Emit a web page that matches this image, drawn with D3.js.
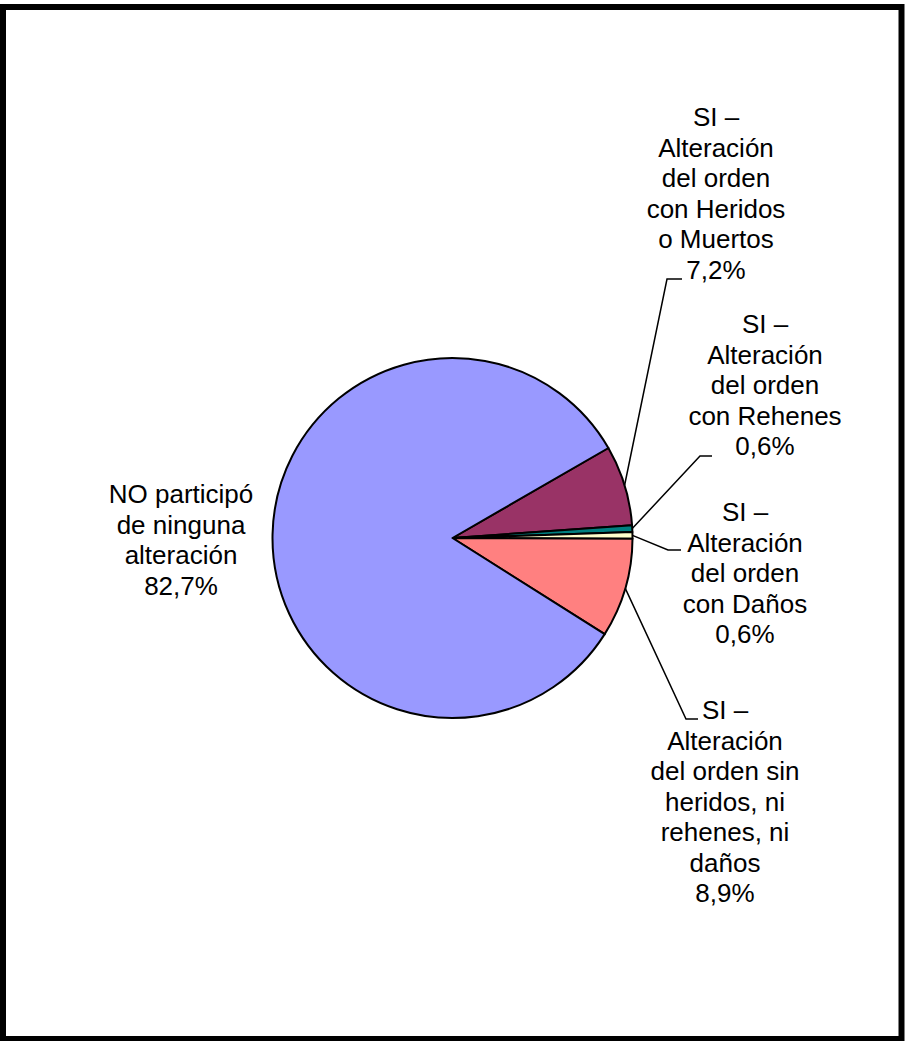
<!DOCTYPE html>
<html>
<head>
<meta charset="utf-8">
<script src="https://cdn.jsdelivr.net/npm/d3@7"></script>
<style>
  html, body { margin: 0; padding: 0; background: #fff; }
  svg { display: block; }
  text { font-family: Arial, "Liberation Sans", sans-serif; font-size: 26px; fill: #000; }
</style>
</head>
<body>
<script>
// ---- data (clockwise order as drawn, starting at the blue/purple boundary) ----
const categories = [
  "SI – Alteración del orden con Heridos o Muertos",
  "SI – Alteración del orden con Rehenes",
  "SI – Alteración del orden con Daños",
  "SI – Alteración del orden sin heridos, ni rehenes, ni daños",
  "NO participó de ninguna alteración"
];
const values = [7.2, 0.6, 0.6, 8.9, 82.7];
const valueLabels = ["7,2%", "0,6%", "0,6%", "8,9%", "82,7%"];
const labelLines = [
  ["SI –", "Alteración", "del orden", "con Heridos", "o Muertos"],
  ["SI –", "Alteración", "del orden", "con Rehenes"],
  ["SI –", "Alteración", "del orden", "con Daños"],
  ["SI –", "Alteración", "del orden sin", "heridos, ni", "rehenes, ni", "daños"],
  ["NO participó", "de ninguna", "alteración"]
];
const colors = ["#993366", "#008080", "#FFFFCC", "#FF8080", "#9999FF"];

// ---- layout ----
const W = 906, H = 1041;
const cx = 452.5, cy = 538, R = 180;
const lineH = 30.5;
// label centre x and first baseline y
const labelPos = [
  { x: 716, y: 126 },
  { x: 765, y: 333 },
  { x: 745, y: 521 },
  { x: 725, y: 719 },
  { x: 181, y: 503 }
];
// leader elbows: [elbow point, end point]; null = no leader
const leaders = [
  [[667, 279], [682, 279]],
  [[700, 456], [712, 456]],
  [[668, 550], [681, 550]],
  [[686, 719], [698, 719]],
  null
];

const svg = d3.select("body").append("svg")
  .attr("width", W).attr("height", H);

svg.append("rect")
  .attr("x", 3).attr("y", 7)
  .attr("width", 898.5).attr("height", 1032)
  .attr("fill", "#fff")
  .attr("stroke", "#000").attr("stroke-width", 6);

const pie = d3.pie().sort(null).value(d => d)
  .startAngle(Math.PI / 3).endAngle(Math.PI / 3 + 2 * Math.PI);
const arcs = pie(values);
const arc = d3.arc().innerRadius(0).outerRadius(R);

const g = svg.append("g").attr("transform", `translate(${cx},${cy})`);
g.selectAll("path.slice").data(arcs).enter().append("path")
  .attr("class", "slice")
  .attr("d", arc)
  .attr("fill", (d, i) => colors[i])
  .attr("stroke", "#000")
  .attr("stroke-width", 2)
  .attr("stroke-linejoin", "round");

// leader lines
arcs.forEach((a, i) => {
  if (!leaders[i]) return;
  const mid = (a.startAngle + a.endAngle) / 2;
  const px = cx + R * Math.sin(mid), py = cy - R * Math.cos(mid);
  const pts = [[px, py], leaders[i][0], leaders[i][1]];
  svg.append("path")
    .attr("d", d3.line()(pts))
    .attr("fill", "none")
    .attr("stroke", "#000")
    .attr("stroke-width", 1.5);
});

// labels
arcs.forEach((a, i) => {
  const lines = labelLines[i].concat([valueLabels[i]]);
  const t = svg.append("text")
    .attr("text-anchor", "middle")
    .attr("x", labelPos[i].x).attr("y", labelPos[i].y);
  lines.forEach((ln, j) => {
    t.append("tspan")
      .attr("x", labelPos[i].x)
      .attr("y", labelPos[i].y + j * lineH)
      .text(ln);
  });
});
</script>
</body>
</html>
